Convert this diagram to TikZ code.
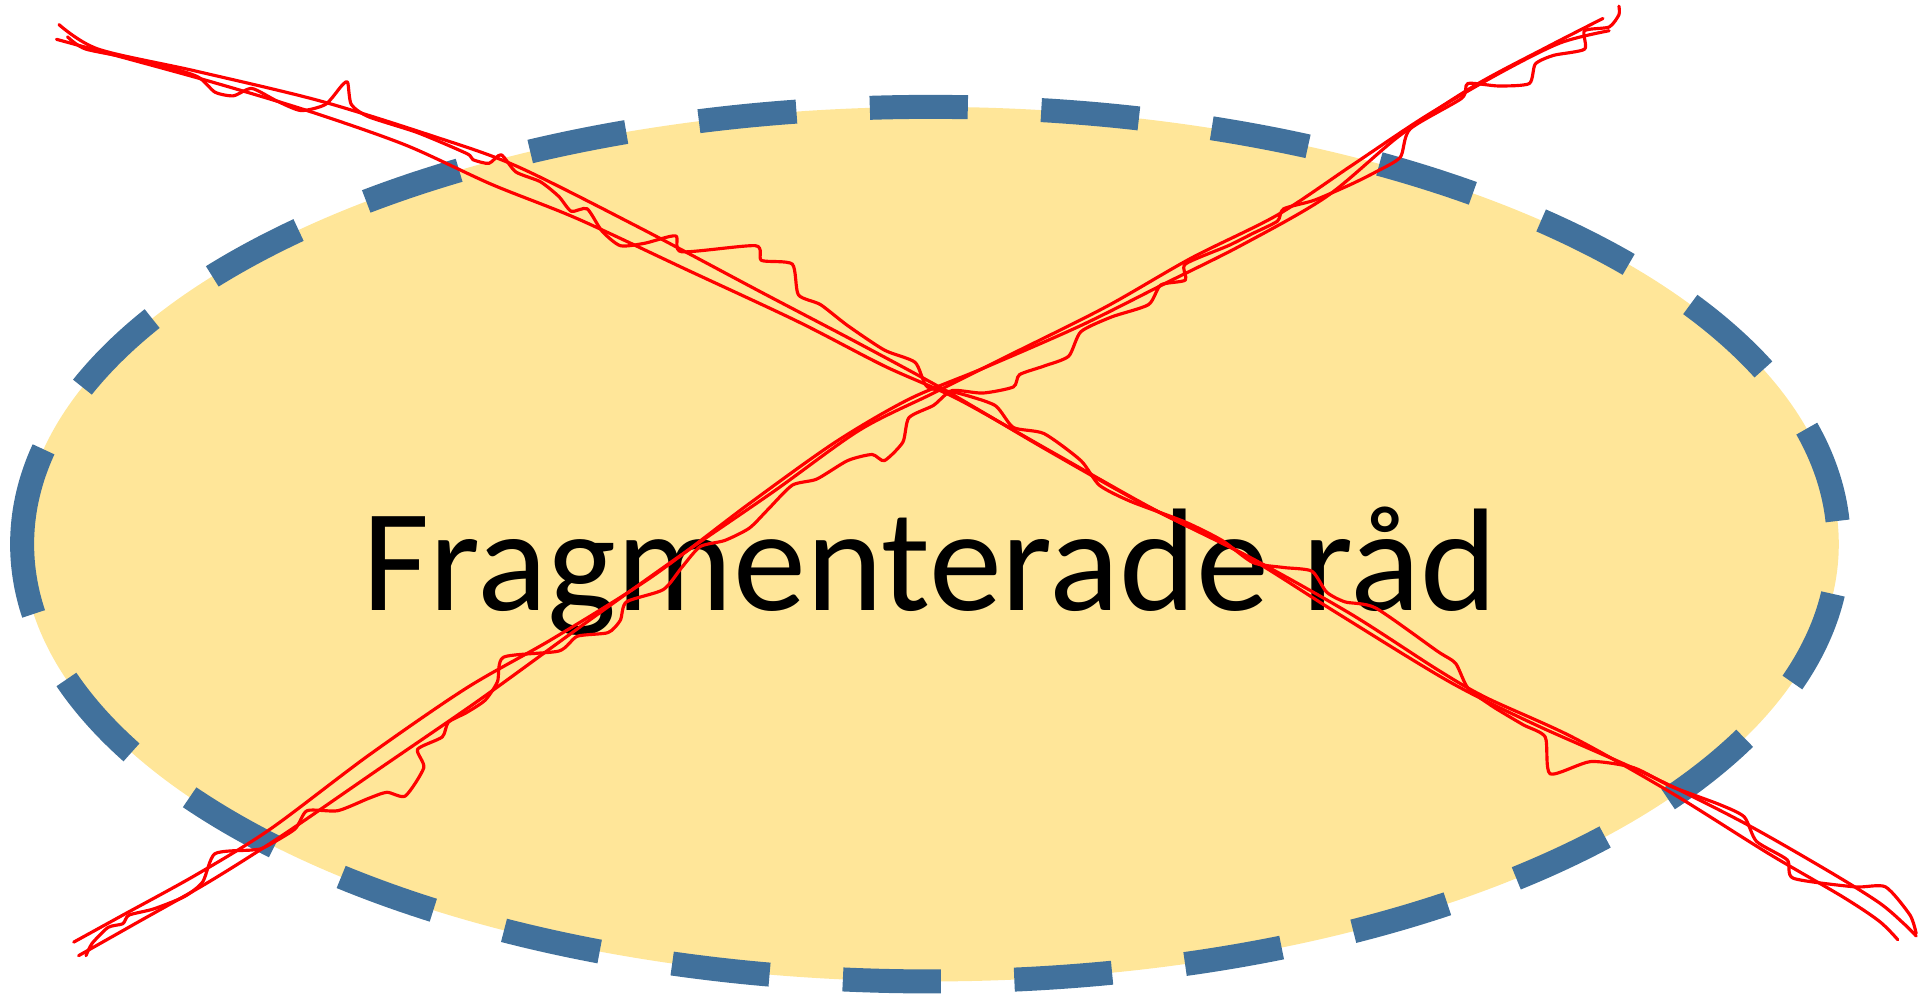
\documentclass[tikz,border=0pt]{standalone}
\usepackage{fontspec}
\setmainfont{Carlito}
\definecolor{ovalfill}{HTML}{FFE699}
\definecolor{ovaledge}{HTML}{41719C}
\definecolor{scribble}{HTML}{FF0000}
\tikzset{
  ovalstyle/.style={fill=ovalfill, draw=ovaledge, line width=0.24cm, dash pattern=on 0.98cm off 0.735cm, dash phase=0cm},
  redstroke/.style={draw=scribble, line width=0.9pt, line cap=round, line join=round},
  title/.style={font=\fontsize{41.6}{50}\selectfont, text=black, anchor=base, inner sep=0pt}
}
\begin{document}
\begin{tikzpicture}[x=0.012283cm, y=-0.012283cm]
\useasboundingbox (0,0) rectangle (1568,810);
\path[ovalstyle] (18,443) arc[start angle=180, end angle=540, x radius=739.5, y radius=356];
\node[title] (label) at (757,497) {Fragmenterade råd};
% arm A : top-left to bottom-right
\draw[redstroke] plot[smooth, tension=0.5] coordinates {(48,20) (80,40) (160,58) (260,82) (350,110) (420,135) (520,185) (620,238) (700,280) (770,318) (850,365) (930,410) (1010,450) (1090,500) (1180,555) (1250,590) (1340,630) (1420,670) (1490,710) (1530,735) (1550,752) (1560,762)};
\draw[redstroke] plot[smooth, tension=0.5] coordinates {(46,32) (90,44) (170,66) (250,90) (330,118) (400,150) (470,178) (560,220) (650,262) (720,298) (780,325) (860,370) (940,415) (1020,455) (1100,500) (1170,545) (1210,568) (1280,600) (1360,645) (1440,695) (1500,730) (1530,750) (1545,765)};
\draw[redstroke] plot[smooth, tension=0.4] coordinates {(55,30) (70,40) (120,50) (160,62) (175,75) (190,78) (205,72) (225,82) (245,90) (265,85) (278,70) (283,67) (286,85) (300,95) (340,108) (380,125) (385,130) (398,133) (408,126) (420,140) (440,148) (455,160) (465,172) (478,170) (490,188) (505,200) (525,198) (550,192) (555,205) (615,200) (620,212) (645,215) (650,240) (668,248) (690,265) (720,285) (745,295) (755,315) (780,320) (810,330) (825,348) (850,353) (880,375) (895,395) (920,408) (965,425) (995,440) (1020,458) (1045,462) (1068,465) (1080,482) (1095,490) (1120,495) (1170,530) (1185,540) (1195,560) (1215,575) (1240,590) (1258,600) (1262,630) (1295,620) (1330,625) (1360,640) (1400,655) (1420,665) (1430,685) (1455,700) (1460,715) (1510,722) (1535,722) (1555,745) (1560,760)};
% arm B : bottom-left to top-right
\draw[redstroke] plot[smooth, tension=0.5] coordinates {(60,767) (100,745) (160,712) (220,675) (300,615) (380,560) (450,520) (530,470) (610,410) (680,360) (740,325) (800,300) (880,265) (950,230) (1010,200) (1080,160) (1140,110) (1200,70) (1260,38) (1305,15)};
\draw[redstroke] plot[smooth, tension=0.5] coordinates {(64,778) (110,752) (170,718) (230,680) (310,625) (390,570) (470,512) (550,455) (630,400) (700,350) (760,320) (820,290) (900,250) (970,210) (1040,175) (1100,135) (1160,95) (1220,60) (1270,35) (1310,25)};
\draw[redstroke] plot[smooth, tension=0.4] coordinates {(70,778) (75,768) (88,755) (100,752) (105,745) (125,740) (150,730) (165,718) (175,695) (205,692) (215,690) (240,675) (250,660) (275,660) (300,650) (315,645) (330,648) (345,625) (340,610) (360,600) (365,588) (380,580) (395,570) (405,555) (410,535) (455,530) (470,518) (495,515) (505,505) (510,490) (540,480) (555,462) (570,445) (590,440) (610,430) (625,415) (645,395) (665,390) (690,375) (710,370) (720,375) (735,360) (740,340) (760,330) (775,318) (800,320) (825,315) (830,305) (850,298) (870,290) (880,270) (905,258) (935,248) (945,232) (965,228) (965,215) (1000,200) (1020,190) (1040,180) (1045,170) (1070,163) (1100,150) (1120,140) (1140,128) (1148,105) (1190,80) (1195,68) (1220,70) (1245,68) (1250,52) (1265,45) (1290,40) (1290,25) (1310,22) (1318,12) (1318,5)};
\end{tikzpicture}
\end{document}
